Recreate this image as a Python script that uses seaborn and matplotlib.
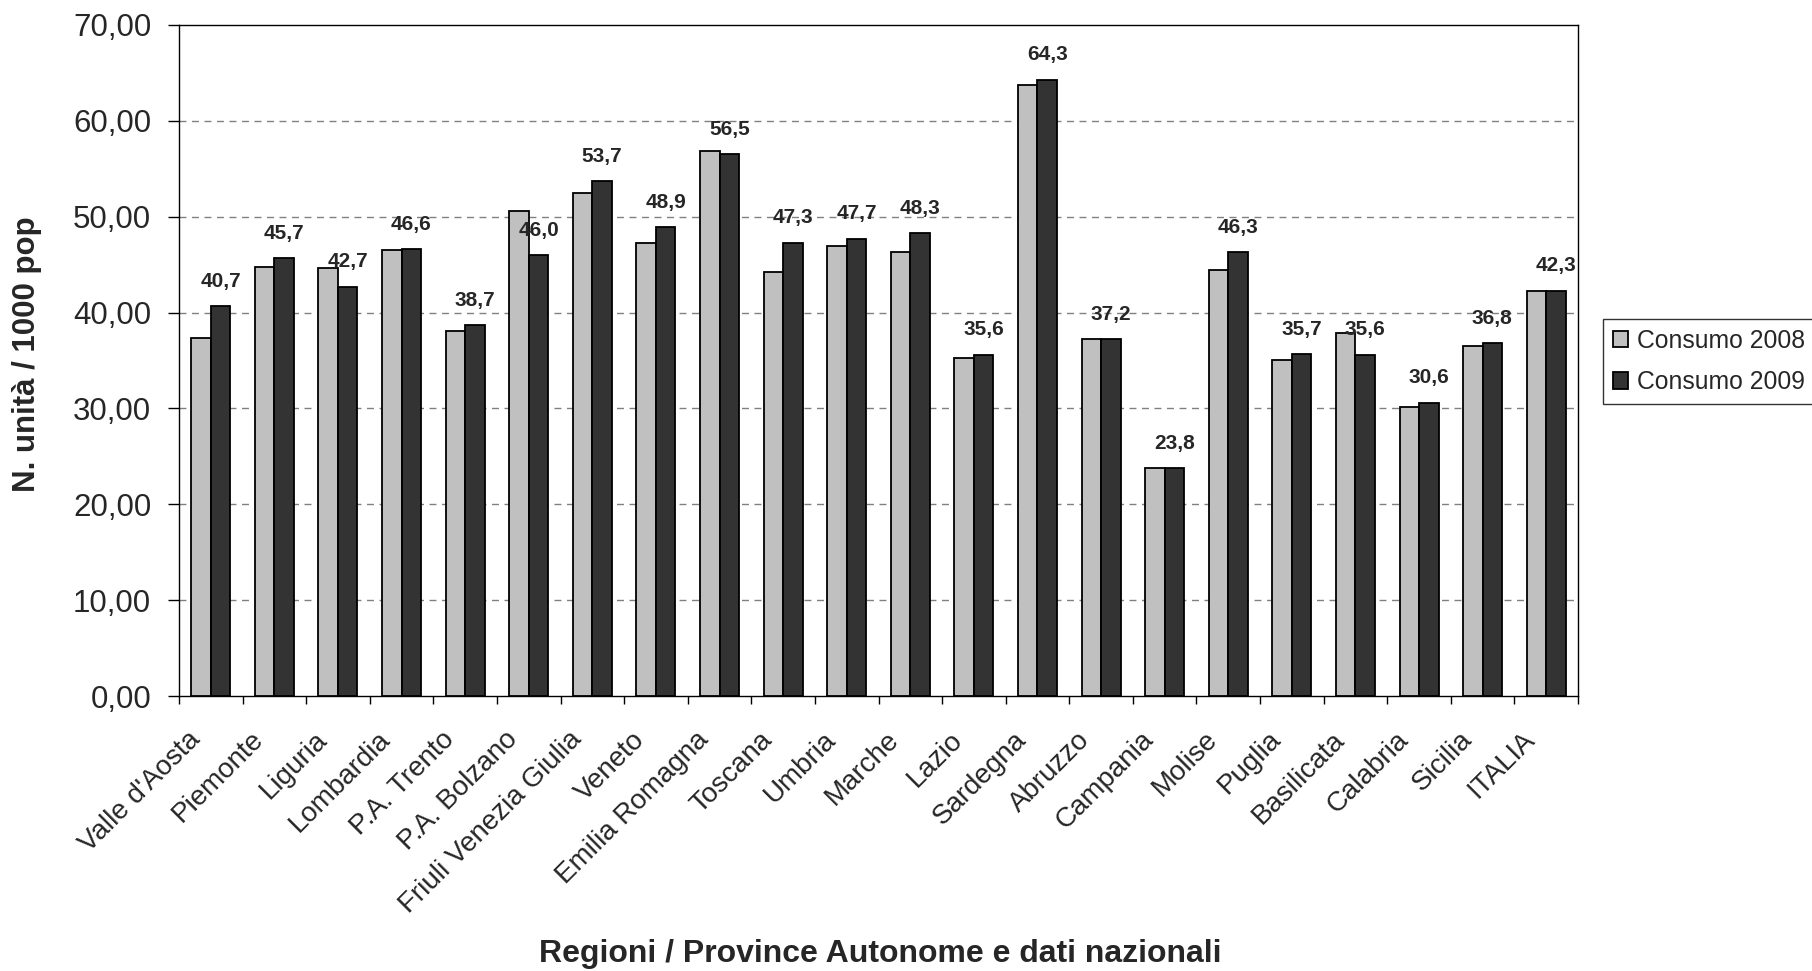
import matplotlib
matplotlib.use("Agg")
import matplotlib.pyplot as plt
from matplotlib.transforms import ScaledTranslation
from matplotlib.ticker import FuncFormatter, FixedLocator, MultipleLocator
import seaborn as sns
import pandas as pd

# Regional consumption (units per 1000 inhabitants)
regions = ["Valle d'Aosta", "Piemonte", "Liguria", "Lombardia", "P.A. Trento",
           "P.A. Bolzano", "Friuli Venezia Giulia", "Veneto", "Emilia Romagna",
           "Toscana", "Umbria", "Marche", "Lazio", "Sardegna", "Abruzzo",
           "Campania", "Molise", "Puglia", "Basilicata", "Calabria", "Sicilia",
           "ITALIA"]
consumo_2008 = [37.3, 44.8, 44.6, 46.5, 38.1, 50.6, 52.5, 47.3, 56.9, 44.2, 46.9,
                46.3, 35.3, 63.7, 37.2, 23.8, 44.4, 35.0, 37.9, 30.2, 36.5, 42.2]
consumo_2009 = [40.7, 45.7, 42.7, 46.6, 38.7, 46.0, 53.7, 48.9, 56.5, 47.3, 47.7,
                48.3, 35.6, 64.3, 37.2, 23.8, 46.3, 35.7, 35.6, 30.6, 36.8, 42.3]
series_names = ["Consumo 2008", "Consumo 2009"]
y_ticks = [0, 10, 20, 30, 40, 50, 60, 70]

df = pd.DataFrame({
    "Regione": regions * 2,
    "Serie": [series_names[0]] * len(regions) + [series_names[1]] * len(regions),
    "Valore": consumo_2008 + consumo_2009,
})

sns.set_style("white")
plt.rcParams["font.family"] = ["Liberation Sans", "DejaVu Sans"]

DPI = 100
fig = plt.figure(figsize=(18.12, 9.71), dpi=DPI)
ax = fig.add_axes([179 / 1812, 1 - 696 / 971, 1399 / 1812, 671 / 971])

sns.barplot(data=df, x="Regione", y="Valore", hue="Serie", order=regions,
            hue_order=series_names, palette=["#C0C0C0", "#333333"],
            width=0.614, gap=0, edgecolor="black", linewidth=1.3,
            saturation=1, errorbar=None, ax=ax, zorder=3)

ax.set_xlim(-0.5, len(regions) - 0.5)
ax.set_ylim(0, 70)

# dashed horizontal gridlines
ax.yaxis.set_major_locator(FixedLocator(y_ticks))
ax.yaxis.set_major_formatter(FuncFormatter(lambda v, p: f"{v:.2f}".replace(".", ",")))
for v in y_ticks[1:-1]:
    ax.axhline(v, color="#808080", lw=1.0, ls=(0, (5, 4)), zorder=1)

for s in ax.spines.values():
    s.set_visible(True)
    s.set_color("black")
    s.set_linewidth(1.0)

ax.tick_params(axis="y", which="major", direction="out", length=8, width=1,
               color="black", labelsize=22.5, pad=12, left=True)
# category ticks sit between groups, labels at the group centres
ax.xaxis.set_minor_locator(MultipleLocator(1, offset=0.5))
ax.tick_params(axis="x", which="minor", direction="out", length=6, width=1,
               color="black", bottom=True)
ax.tick_params(axis="x", which="major", length=0, labelsize=20, pad=22)
ax.set_xticks(range(len(regions)))
ax.set_xticklabels(regions, rotation=45, ha="right", va="top",
                   rotation_mode="anchor")
shift = ScaledTranslation(-24 / DPI, 0, fig.dpi_scale_trans)
for lab in ax.get_xticklabels():
    lab.set_transform(lab.get_transform() + shift)

# value labels above the 2009 bars
ax.bar_label(ax.containers[1],
             labels=[f"{v:.1f}".replace(".", ",") for v in consumo_2009],
             padding=11, fontsize=15, fontweight="bold", zorder=5)

ax.set_xlabel("Regioni / Province Autonome e dati nazionali",
              fontsize=23, fontweight="bold")
ax.set_ylabel("N. unità / 1000 pop", fontsize=22.5, fontweight="bold")
ax.xaxis.label.set_va("center")
ax.xaxis.set_label_coords(0.501, -0.384)
ax.yaxis.label.set_va("center")
ax.yaxis.set_label_coords(-0.109, 0.51)

ax.get_legend().remove()
handles, labels = ax.get_legend_handles_labels()
leg = fig.legend(handles, labels, loc="upper left",
                 bbox_to_anchor=(1603 / 1812, 1 - 319 / 971), borderaxespad=0,
                 fontsize=17.8, frameon=True, fancybox=False, shadow=False,
                 framealpha=1, edgecolor="#333333", handlelength=0.62,
                 handleheight=0.62, handletextpad=0.35, labelspacing=0.7,
                 borderpad=0.4)
leg.get_frame().set_linewidth(1.0)

fig.savefig("out.png", dpi=DPI)
